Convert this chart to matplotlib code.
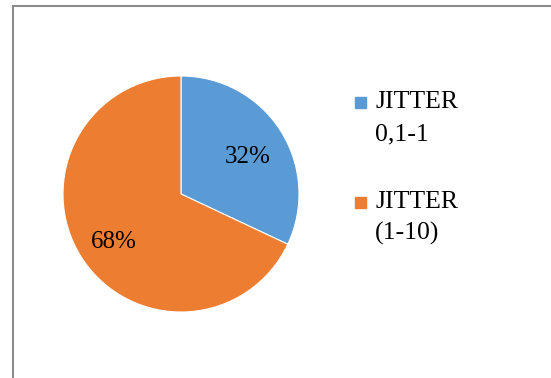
import matplotlib.pyplot as plt
from matplotlib.lines import Line2D
from matplotlib.patches import Rectangle

# 饼图数据
labels = ['JITTER\n0,1-1', 'JITTER\n(1-10)']
shares = [32, 68]
colors = ['#5B9BD5', '#ED7D31']

plt.rcParams['font.family'] = ['Liberation Serif', 'DejaVu Serif']

W, H = 551, 378
fig = plt.figure(figsize=(W / 100, H / 100), dpi=100)

# 外框（只有上边和左边在图内）
fig.add_artist(Line2D([13 / W, 13 / W], [0, 1 - 6 / H], color='#8c8c8c', lw=1.5))
fig.add_artist(Line2D([13 / W, 1], [1 - 6 / H, 1 - 6 / H], color='#8c8c8c', lw=1.5))

# 饼图区域，圆心 (181, 194)，半径 118 像素
cx, cy, r = 181, 194, 118
ax = fig.add_axes([(cx - r) / W, (H - cy - r) / H, 2 * r / W, 2 * r / H])
wedges, texts, autotexts = ax.pie(
    shares, colors=colors, startangle=90, counterclock=False,
    autopct='%1.0f%%', pctdistance=0.67, radius=1,
    wedgeprops={'edgecolor': 'white', 'linewidth': 0.8},
    textprops={'fontsize': 18, 'color': 'black'})
# 百分比标签稍微往下放一点
for t in autotexts:
    x, y = t.get_position()
    t.set_position((x, y - 0.045))
ax.set_xlim(-1, 1)
ax.set_ylim(-1, 1)
ax.set_aspect('equal')
ax.axis('off')

# 图例，每行单独画，行距 32 像素
for i, (lab, col) in enumerate(zip(labels, colors)):
    top = 97 + i * 100
    fig.add_artist(Rectangle((355 / W, 1 - (top + 11) / H), 11 / W, 11 / H,
                             color=col, transform=fig.transFigure))
    for j, line in enumerate(lab.split('\n')):
        fig.text(375 / W, 1 - (108 + i * 100 + j * 32) / H, line,
                 fontsize=18.5, va='baseline', ha='left')

fig.savefig('out.png', dpi=100)
